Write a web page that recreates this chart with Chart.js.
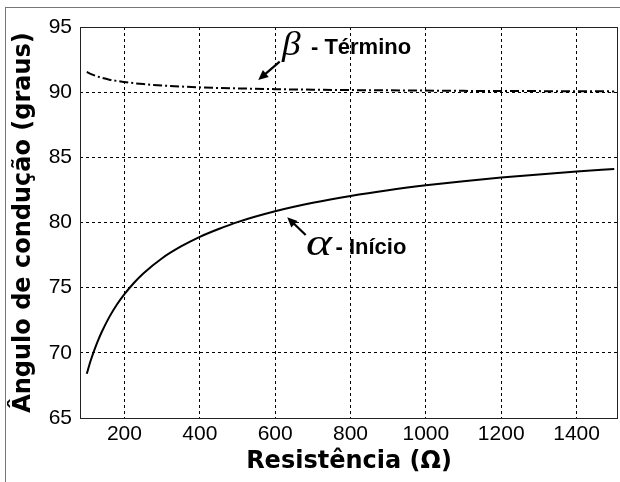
<!DOCTYPE html>
<html lang="pt-BR">
<head>
<meta charset="UTF-8">
<title>Ângulo de condução x Resistência</title>
<script src="https://cdn.jsdelivr.net/npm/chart.js"></script>
<style>
  html, body { margin: 0; padding: 0; background: #fff; }
  body { width: 620px; height: 482px; position: relative; overflow: hidden; }
  /* moldura externa da figura */
  .moldura {
    position: absolute; left: 5px; top: 7px; width: 700px; height: 600px;
    border-left: 1px solid #777; border-top: 1px solid #777;
  }
  #grafico { position: absolute; left: 0; top: 0; }
</style>
</head>
<body>
<div class="moldura"></div>
<canvas id="grafico" width="620" height="482"></canvas>
<script>
// Resistência de carga (ohms)
const resistencia = [100, 110, 120, 130, 140, 160, 180, 200, 225, 250, 300, 350, 400, 450, 500,
  600, 700, 800, 900, 1000, 1100, 1200, 1300, 1400, 1500];
// alfa - início da condução (graus)
const alfaInicio = [68.4, 69.37, 70.21, 70.96, 71.62, 72.76, 73.71, 74.51, 75.36, 76.09, 77.26, 78.16, 78.9, 79.5, 80.03,
  80.86, 81.51, 82.04, 82.48, 82.85, 83.17, 83.45, 83.69, 83.91, 84.11];
// beta - término da condução (graus)
const betaTermino = [91.55, 91.41, 91.29, 91.19, 91.1, 90.96, 90.86, 90.78, 90.69, 90.62, 90.51, 90.43, 90.37, 90.32, 90.29,
  90.23, 90.19, 90.16, 90.14, 90.12, 90.1, 90.09, 90.08, 90.07, 90.06];
const xTicks = [200, 400, 600, 800, 1000, 1200, 1400];

const pontos = (ys) => resistencia.map((r, i) => ({ x: r, y: ys[i] }));

// caixa em volta da área do gráfico
const caixa = {
  id: "caixa",
  afterDatasetsDraw(chart) {
    const { ctx, chartArea: a } = chart;
    ctx.save();
    ctx.strokeStyle = "#222";
    ctx.lineWidth = 1;
    ctx.strokeRect(Math.round(a.left) + 0.5, Math.round(a.top) + 0.5,
      Math.round(a.right - a.left) - 1, Math.round(a.bottom - a.top));
    ctx.restore();
  },
};

function seta(ctx, x0, y0, x1, y1) {
  const ang = Math.atan2(y1 - y0, x1 - x0);
  const L = 10, W = 4.5;
  ctx.beginPath();
  ctx.moveTo(x0, y0);
  ctx.lineTo(x1 - L * 0.8 * Math.cos(ang), y1 - L * 0.8 * Math.sin(ang));
  ctx.lineWidth = 2.2;
  ctx.stroke();
  ctx.beginPath();
  ctx.moveTo(x1, y1);
  ctx.lineTo(x1 - L * Math.cos(ang) + W * Math.sin(ang), y1 - L * Math.sin(ang) - W * Math.cos(ang));
  ctx.lineTo(x1 - L * Math.cos(ang) - W * Math.sin(ang), y1 - L * Math.sin(ang) + W * Math.cos(ang));
  ctx.closePath();
  ctx.fill();
}

// letra grega um pouco alargada, como no original do MATLAB
function grega(ctx, txt, x, y, size, esticar) {
  ctx.save();
  ctx.font = "italic " + size + "px 'Liberation Serif', 'DejaVu Serif', serif";
  ctx.translate(x, y);
  ctx.scale(esticar, 1);
  ctx.fillText(txt, 0, 0);
  ctx.restore();
}

// rótulos das curvas com setas
const anotacoes = {
  id: "anotacoes",
  afterDatasetsDraw(chart) {
    const { ctx, scales: { x, y } } = chart;
    const px = (v) => x.getPixelForValue(v);
    const py = (v) => y.getPixelForValue(v);
    ctx.save();
    ctx.fillStyle = "#000";
    ctx.strokeStyle = "#000";
    seta(ctx, px(612), py(92.34), px(555), py(90.93));
    seta(ctx, px(681), py(79.04), px(632), py(80.4));
    ctx.textBaseline = "alphabetic";
    ctx.textAlign = "left";
    grega(ctx, "β", px(618), py(92.85), 34, 1.1);
    grega(ctx, "α", px(682), py(77.5), 38, 1.3);
    ctx.font = "bold 22px 'Liberation Sans', Arial, sans-serif";
    ctx.fillText("- Término", px(695), py(92.9));
    ctx.fillText("- Início", px(760), py(77.58));
    ctx.restore();
  },
};

new Chart(document.getElementById("grafico"), {
  type: "line",
  data: {
    datasets: [
      {
        label: "α - Início",
        data: pontos(alfaInicio),
        borderColor: "#000",
        borderWidth: 2,
        pointRadius: 0,
        cubicInterpolationMode: "monotone",
      },
      {
        label: "β - Término",
        data: pontos(betaTermino),
        borderColor: "#000",
        borderWidth: 2,
        borderDash: [9, 3, 2, 3],
        pointRadius: 0,
        cubicInterpolationMode: "monotone",
      },
    ],
  },
  options: {
    responsive: false,
    animation: false,
    devicePixelRatio: 1,
    events: [],
    layout: { padding: { left: 0, top: 27, right: 2, bottom: 0 } },
    plugins: { legend: { display: false }, tooltip: { enabled: false } },
    scales: {
      x: {
        type: "linear",
        min: 82,
        max: 1510,
        afterBuildTicks: (axis) => { axis.ticks = xTicks.map((v) => ({ value: v })); },
        afterFit: (scale) => { scale.height = 64; },
        grid: { color: "#000", lineWidth: 1, drawTicks: false },
        border: { display: false, dash: [3, 3] },
        ticks: {
          color: "#000",
          padding: 4,
          maxRotation: 0,
          callback: (v) => String(v),
          font: { family: "'Liberation Sans', Arial, sans-serif", size: 21 },
        },
        title: {
          display: true,
          text: "Resistência (Ω)",
          color: "#000",
          padding: { top: 0, bottom: 6 },
          font: { family: "'DejaVu Sans', sans-serif", size: 24, weight: "bold" },
        },
      },
      y: {
        min: 65,
        max: 95,
        afterFit: (scale) => { scale.width = 80; },
        grid: { color: "#000", lineWidth: 1, drawTicks: false },
        border: { display: false, dash: [3, 3] },
        ticks: {
          stepSize: 5,
          color: "#000",
          padding: 8,
          callback: (v) => String(v),
          font: { family: "'Liberation Sans', Arial, sans-serif", size: 21 },
        },
        title: {
          display: true,
          text: "Ângulo de condução (graus)",
          color: "#000",
          padding: { top: 9, bottom: 0 },
          font: { family: "'DejaVu Sans', sans-serif", size: 24, weight: "bold" },
        },
      },
    },
  },
  plugins: [caixa, anotacoes],
});
</script>
</body>
</html>
